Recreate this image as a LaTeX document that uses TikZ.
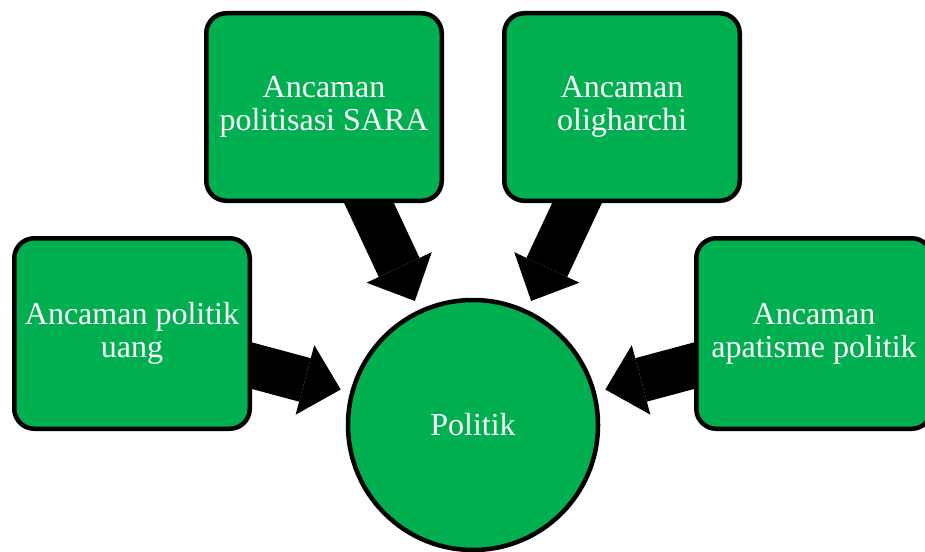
\documentclass[tikz,border=0pt]{standalone}
\usepackage{fontspec}
\setmainfont{Liberation Serif}
\usetikzlibrary{arrows.meta,backgrounds}
\definecolor{boxgreen}{RGB}{0,176,80}
\begin{document}
\begin{tikzpicture}[x=1pt,y=-1pt,
  box/.style={draw=black, line width=4.5pt, fill=boxgreen, rounded corners=20pt,
    minimum width=235.5pt, minimum height=187.5pt, align=center, text=white,
    font=\fontsize{32}{33}\selectfont, inner sep=0pt},
  hub/.style={circle, draw=black, line width=4.5pt, fill=boxgreen, minimum size=250pt,
    text=white, font=\fontsize{32}{33}\selectfont, inner sep=0pt},
  bigarrow/.style={draw=black, line width=45pt,
    -{Triangle[length=37pt,width=72pt,line width=0pt]}, shorten >=9.75pt}]
\useasboundingbox (0,0) rectangle (925,551);
\node[hub] (pol) at (473,425) {Politik};
\node[box] (sara) at (324,107) {Ancaman\\politisasi SARA};
\node[box] (olig) at (622,107) {Ancaman\\oligharchi};
\node[box, minimum height=190.5pt] (uang) at (132,333.5) {Ancaman politik\\uang};
\node[box, minimum height=190.5pt] (apat) at (814,333.5) {Ancaman\\apatisme politik};
\begin{scope}[on background layer]
\draw[bigarrow] (sara.center) -- (pol);
\draw[bigarrow] (olig.center) -- (pol);
\draw[bigarrow] (uang.center) -- (pol);
\draw[bigarrow] (apat.center) -- (pol);
\end{scope}
\end{tikzpicture}
\end{document}
